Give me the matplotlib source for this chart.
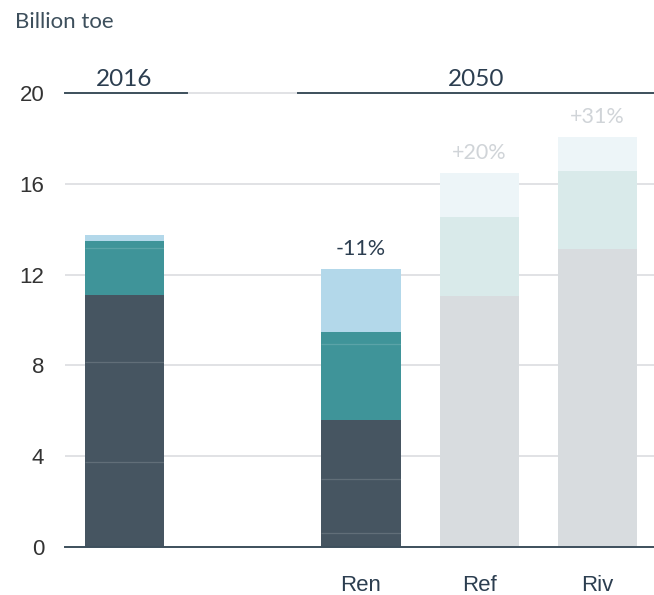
import numpy as np
import matplotlib.pyplot as plt

# data (billion toe)
bar_labels = ['', 'Ren', 'Ref', 'Riv']
bar_pos = [0, 2, 3, 4]

# 2016 and Ren: fossil / low-carbon / renewables sub-stacks
fossil_2016 = [3.74, 4.41, 2.96]
lowcarb_2016 = [2.06, 0.31]
renew_2016 = [0.26]
fossil_ren = [0.60, 2.38, 2.60]
lowcarb_ren = [3.35, 0.56]
renew_ren = [2.76]

# Ref and Riv: three shaded blocks
ref_parts = [11.06, 3.48, 1.92]
riv_parts = [13.13, 3.43, 1.49]

pct_labels = ['-11%', '+20%', '+31%']
period_labels = ['2016', '2050']

# colours
dark = '#465561'
teal = '#3f9499'
lightblue = '#b3d8ea'
grey_bar = '#d8dcdf'
light_teal = '#d9eaea'
lightest = '#edf5f8'
text_dark = '#2c3e50'
line_dark = '#3d4f5c'
grid_col = '#dcdde0'

plt.rcParams['font.family'] = ['Liberation Sans', 'DejaVu Sans']

fig = plt.figure(figsize=(6.54, 5.95), dpi=100)
ax = fig.add_axes([65 / 654, 48 / 595, 589 / 654, 21 * 22.7 / 595])

width = 0.67


def draw_stack(x, groups, colors, inner_lines=True):
    bottom = 0
    for parts, c in zip(groups, colors):
        for i, v in enumerate(parts):
            ax.bar(x, v, bottom=bottom, width=width, color=c, zorder=2, linewidth=0)
            if inner_lines and i > 0:
                ax.hlines(bottom, x - width / 2, x + width / 2, color='white',
                          alpha=0.15, lw=0.9, zorder=3)
            bottom += v
    return bottom


tops = []
tops.append(draw_stack(bar_pos[0], [fossil_2016, lowcarb_2016, renew_2016], [dark, teal, lightblue]))
tops.append(draw_stack(bar_pos[1], [fossil_ren, lowcarb_ren, renew_ren], [dark, teal, lightblue]))
tops.append(draw_stack(bar_pos[2], [[v] for v in ref_parts], [grey_bar, light_teal, lightest]))
tops.append(draw_stack(bar_pos[3], [[v] for v in riv_parts], [grey_bar, light_teal, lightest]))

# percentage change labels
pct_cols = [text_dark, '#d0d4d8', '#d0d4d8']
for x, t, lab, c in zip(bar_pos[1:], tops[1:], pct_labels, pct_cols):
    ax.annotate(lab, (x, t), xytext=(0, 10), textcoords='offset points',
                ha='center', va='baseline', fontsize=15.5, color=c, family=['Lato', 'DejaVu Sans'])

# axes
x_left = -0.504
x_right = 4.48
ax.set_xlim(x_left, x_right)
ax.set_ylim(0, 21)
ax.set_yticks([0, 4, 8, 12, 16, 20])
ax.set_xticks(bar_pos[1:])
ax.set_xticklabels(bar_labels[1:])
ax.tick_params(axis='y', length=0, pad=15, labelsize=16, labelcolor='#333333')
ax.tick_params(axis='x', length=0, pad=20, labelsize=16, labelcolor=text_dark)
ax.yaxis.grid(True, color=grid_col, lw=1.2, zorder=0)
ax.set_axisbelow(True)
for s in ['left', 'right', 'top']:
    ax.spines[s].set_visible(False)
ax.spines['bottom'].set_color(line_dark)
ax.spines['bottom'].set_linewidth(1.4)
ax.spines['bottom'].set_zorder(4)

# period headers with lines on the top gridline
ymax = 20
ext = 0.195
ax.plot([x_left, bar_pos[0] + width / 2 + ext], [ymax, ymax], color=line_dark, lw=1.4, zorder=4, clip_on=False)
ax.plot([bar_pos[1] - width / 2 - ext, x_right], [ymax, ymax], color=line_dark, lw=1.4, zorder=4, clip_on=False)
ax.annotate(period_labels[0], (bar_pos[0], ymax), xytext=(0, 5), textcoords='offset points',
            ha='center', va='baseline', fontsize=17.5, color=text_dark, family=['Lato', 'DejaVu Sans'])
ax.annotate(period_labels[1], ((bar_pos[1] - width / 2 - ext + x_right) / 2, ymax), xytext=(0, 5),
            textcoords='offset points', ha='center', va='baseline', fontsize=17.5, color=text_dark,
            family=['Lato', 'DejaVu Sans'])

# title (cut off at the top edge, only the descenders show) and unit
fig.text(241 / 654, 1 + 5 / 595, 'Primary energy', ha='right', va='baseline', fontsize=24,
         fontweight='bold', color=text_dark, family=['Lato', 'DejaVu Sans'])
fig.text(15 / 654, 1 - 28.3 / 595, 'Billion toe', ha='left', va='baseline', fontsize=16,
         color=line_dark, family=['Lato', 'DejaVu Sans'])

plt.savefig('out.png', dpi=100)
